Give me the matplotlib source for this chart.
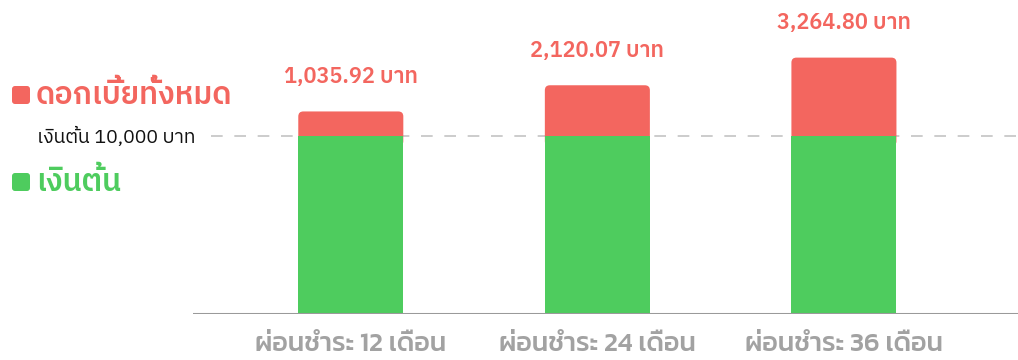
import matplotlib
matplotlib.use("Agg")
import matplotlib.pyplot as plt
from matplotlib.patches import FancyBboxPatch

# Loan repayment: principal plus total interest for each term
terms = ["ผ่อนชำระ 12 เดือน", "ผ่อนชำระ 24 เดือน", "ผ่อนชำระ 36 เดือน"]
principal = [10000, 10000, 10000]
interest = [1035.92, 2120.07, 3264.80]
unit = "บาท"
legend_interest = "ดอกเบี้ยทั้งหมด"
legend_principal = "เงินต้น"
principal_label = "เงินต้น 10,000 บาท"

RED = "#F3665F"
GREEN = "#4ECC5E"
GRAY_TICK = "#A2A2A2"
PLEX = ["IBM Plex Sans Thai", "DejaVu Sans"]
KANIT = ["Kanit", "DejaVu Sans"]

W, H, DPI = 1018, 360, 100
fig = plt.figure(figsize=(W / DPI, H / DPI), dpi=DPI)
ax = fig.add_axes([193 / W, 1 - 314 / H, 1 - 193 / W, 314 / H])

x = list(range(len(terms)))
ymin, ymax = 2650, 15650
xl, xr = -0.64, 2.706
ax.set_xlim(xl, xr)
ax.set_ylim(ymin, ymax)

bar_w = 0.426
# principal (green) bars sit above the interest patches so the join stays straight
ax.bar(x, [p - ymin for p in principal], bottom=ymin, width=bar_w,
       color=GREEN, zorder=3, linewidth=0)

# interest bars with rounded top corners
px_per_x = (W - 193) / (xr - xl)
px_per_y = 314 / (ymax - ymin)
radius_x = 5 / px_per_x
aspect = px_per_x / px_per_y
tops = []
for xi, p, v in zip(x, principal, interest):
    top = p + v
    tops.append(top)
    ax.add_patch(FancyBboxPatch((xi - bar_w / 2, p - 400), bar_w, top - (p - 400),
                                boxstyle=f"round,pad=0,rounding_size={radius_x}",
                                mutation_aspect=aspect, facecolor=RED, edgecolor="none",
                                zorder=2))

# value labels above each bar
for xi, top, v in zip(x, tops, interest):
    ax.annotate(f"{v:,.2f} {unit}", (xi, top), xytext=(0, 25), textcoords="offset points",
                ha="center", va="center", color=RED, fontsize=15.6, fontweight=600,
                family=PLEX)

# principal reference line
ax.axhline(principal[0], xmin=(211 - 193) / (W - 193), xmax=1, color="#C4C4C4",
           linestyle=(0, (7, 7)), linewidth=1.2, zorder=1)

# baseline
ax.axhline(ymin, color="#9A9A9A", linewidth=2.2, zorder=4)

for s in ax.spines.values():
    s.set_visible(False)
ax.set_yticks([])
ax.set_xticks(x)
ax.set_xticklabels(terms, family=KANIT, fontsize=19.3, fontweight=500, color=GRAY_TICK)
ax.tick_params(axis="x", length=0, pad=14)

# legend on the left
fig.add_artist(FancyBboxPatch((12 / W, 1 - 104 / H), 18 / W, 18 / H, transform=fig.transFigure,
                              boxstyle=f"round,pad=0,rounding_size={3 / W}",
                              mutation_aspect=W / H, facecolor=RED, edgecolor="none"))
fig.text(36 / W, 1 - 95 / H, legend_interest, color=RED, fontsize=22, fontweight=600,
         va="center", ha="left", family=PLEX)
fig.text(37 / W, 1 - 137 / H, principal_label, color="#111111", fontsize=14,
         va="center", ha="left", family=PLEX)
fig.add_artist(FancyBboxPatch((12 / W, 1 - 191 / H), 18 / W, 18 / H, transform=fig.transFigure,
                              boxstyle=f"round,pad=0,rounding_size={3 / W}",
                              mutation_aspect=W / H, facecolor=GREEN, edgecolor="none"))
fig.text(36 / W, 1 - 182 / H, legend_principal, color=GREEN, fontsize=22, fontweight=600,
         va="center", ha="left", family=PLEX)

fig.savefig("out.png", dpi=DPI)
